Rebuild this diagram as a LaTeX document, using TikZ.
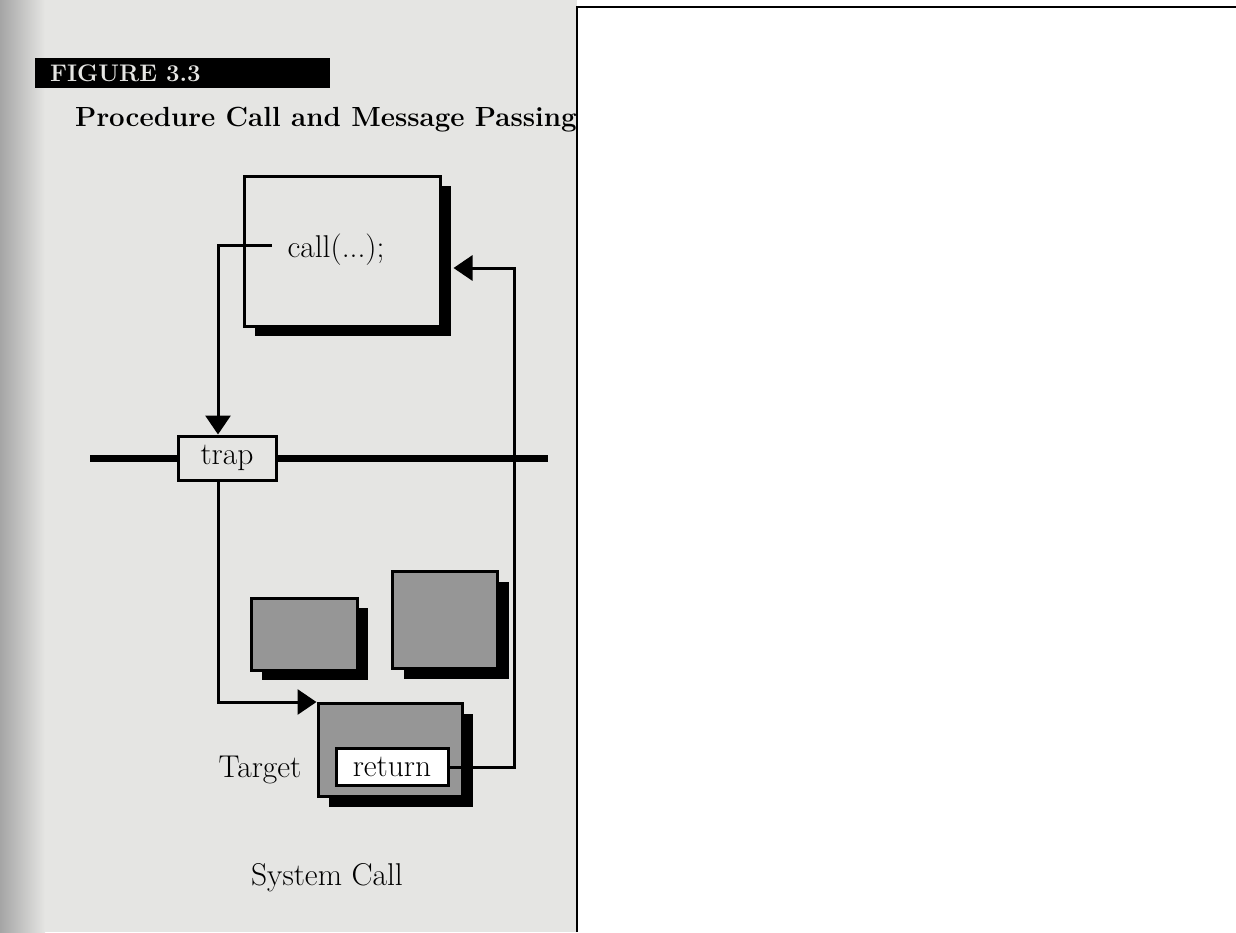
\documentclass[tikz,border=0pt]{standalone}
\usepackage{fontspec}
\usepackage{tikz}
\usetikzlibrary{arrows.meta,positioning,calc,shadows}
\definecolor{paper}{RGB}{229,229,227}
\definecolor{edge}{RGB}{165,165,165}
\definecolor{stip}{RGB}{150,150,150}

\begin{document}
\begin{tikzpicture}[x=1pt,y=-1pt,
  box/.style={rectangle,draw=black,line width=3pt,inner sep=0pt},
  shbox/.style={box,drop shadow={shadow xshift=11pt,shadow yshift=-10pt,fill=black,opacity=1}},
  lbl/.style={font=\fontsize{31.5}{34}\selectfont,inner sep=0pt},
  arr/.style={-{Triangle[length=19pt,width=25pt]},line width=3pt}]
\useasboundingbox (0,0) rectangle (1236,932);
\fill[paper] (0,0) rectangle (577,932);
\shade[left color=edge,right color=paper] (0,0) rectangle (45,932);
% heading
\node[fill=black,minimum width=295pt,minimum height=30pt,inner sep=0pt,anchor=north west] (figbar) at (35,58) {};
\node[anchor=west,text=paper,font=\bfseries\fontsize{24}{26}\selectfont,inner sep=0pt] (fignum) at (50,73) {FIGURE 3.3};
\node[anchor=base west,font=\bfseries\fontsize{27.7}{30}\selectfont,inner sep=0pt] (title) at (75,126) {Procedure Call and Message Passing};
% user side
\node[shbox,fill=paper,minimum width=196pt,minimum height=150pt] (caller) at (342,251) {};
\node[lbl] (call) at (336,250) {call(...);};
\coordinate (callout) at (272,245);
\coordinate (callin) at ([xshift=12pt,yshift=-17pt]caller.east);
% boundary
\node[box,fill=paper,minimum width=98pt,minimum height=44pt,lbl] (trap) at (227,458) {trap};
\coordinate (kl) at (90,458);
\coordinate (kr) at (548,458);
\draw[line width=7pt] (kl) -- (trap.west) (trap.east) -- (kr);
% kernel side
\node[shbox,fill=stip,minimum width=106pt,minimum height=72pt] (blka) at (304,634) {};
\node[shbox,fill=stip,minimum width=105pt,minimum height=97pt] (blkb) at (445,620) {};
\node[shbox,fill=stip,minimum width=144pt,minimum height=93pt] (target) at (390,750) {};
\node[box,fill=white,minimum width=112pt,minimum height=37pt,lbl] (ret) at (392,767) {return};
\node[lbl,anchor=base] (tlab) at (260,777) {Target};
\node[lbl,anchor=base] (syscall) at (327,885) {System Call};
\draw[arr] (callout) -| ([xshift=-9pt]trap.north);
\draw[arr] ([xshift=-9pt]trap.south) |- (target.north west);
\draw[arr] (ret.east) -- ++(65,0) |- (callin);
% blank panel
\fill[white] (577,0) rectangle (1236,932);
\draw[line width=2.5pt] (577,932) -- (577,7) -- (1236,7);
\end{tikzpicture}
\end{document}
